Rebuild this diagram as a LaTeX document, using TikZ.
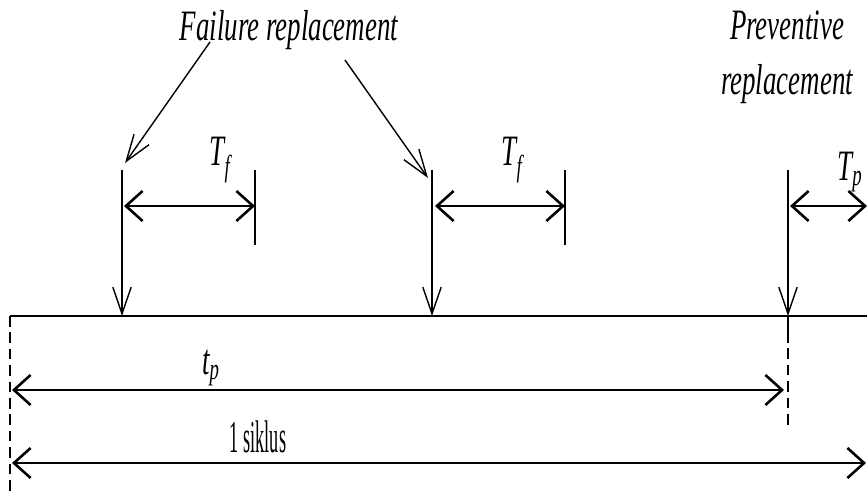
\documentclass[tikz,border=0pt]{standalone}
\usepackage{fontspec}
\setmainfont{Liberation Serif}
\newfontfamily\condfont[FakeStretch=0.62]{Liberation Serif}
\newfontfamily\narrowfont[FakeStretch=0.40]{Liberation Serif}
\usetikzlibrary{arrows.meta, positioning}

\newcommand{\sublbl}[2]{\condfont\itshape #1\textsubscript{#2}}

\begin{document}
\begin{tikzpicture}[x=0.03cm, y=-0.03cm, line width=1.2pt,
		lbl/.style={inner sep=0pt, font=\condfont\itshape\fontsize{37}{47}\selectfont},
		event/.style={-{Straight Barb[length=8mm, width=5.5mm]}},
		longdash/.style={dash pattern=on 9pt off 5pt},
		span/.style={line width=2.2pt, {Straight Barb[length=5mm, width=9mm]}-{Straight Barb[length=5mm, width=9mm]}}]
		\useasboundingbox (0,0) rectangle (867,495);
		% Time axis
		\coordinate (start) at (10,316);
		\coordinate (stop) at (867,316);
		\draw[line width=1.6pt] (start) -- (stop);
		\draw[longdash] (start) -- (10,495);
		% Failure replacements
		\coordinate (f1top) at (122,170);
		\coordinate (f1) at (122,316);
		\coordinate (f2top) at (432,170);
		\coordinate (f2) at (432,316);
		\draw[event] (f1top) -- (f1);
		\draw[event] (f2top) -- (f2);
		\node[lbl] (failtext) at (289,30) {Failure replacement};
		\coordinate (s1) at (210,42);
		\coordinate (e1) at (125,163);
		\coordinate (s2) at (345,60);
		\coordinate (e2) at (428,178);
		\draw[event] (s1) -- (e1);
		\draw[event] (s2) -- (e2);
		% Failure repair durations
		\coordinate (t1a) at (255,170);
		\coordinate (t1b) at (255,245);
		\coordinate (t2a) at (565,170);
		\coordinate (t2b) at (565,245);
		\draw (t1a) -- (t1b);
		\draw (t2a) -- (t2b);
		\draw[span] (124,206) -- (t1a |- 0,206);
		\draw[span] (435,206) -- (t2a |- 0,206);
		\node[lbl] (tf1) at (220,160) {\sublbl{T}{f}};
		\node[lbl] (tf2) at (512,160) {\sublbl{T}{f}};
		% Preventive replacement
		\coordinate (ptop) at (788,170);
		\coordinate (p) at (788,316);
		\draw[event] (ptop) -- (p);
		\draw (p) -- (788,332);
		\draw[longdash] (788,332) -- (788,430);
		\node[lbl, align=center] (prevtext) at (787,57) {Preventive\\replacement};
		\draw[span] (790,206) -- (867,206);
		\node[lbl] (tp) at (850,172) {\sublbl{T}{p}};
		% Cycle spans
		\coordinate (tpl) at (12,390);
		\coordinate (tpr) at (784,390);
		\coordinate (cyl) at (12,463);
		\coordinate (cyr) at (866,463);
		\draw[span] (tpl) -- (tpr);
		\node[lbl] (tplbl) at (211,368) {\sublbl{t}{p}};
		\draw[span] (cyl) -- (cyr);
		\node[lbl, font=\narrowfont\fontsize{39}{44}\selectfont] (cylbl) at (258,437) {1 siklus};
	\end{tikzpicture}
\end{document}
